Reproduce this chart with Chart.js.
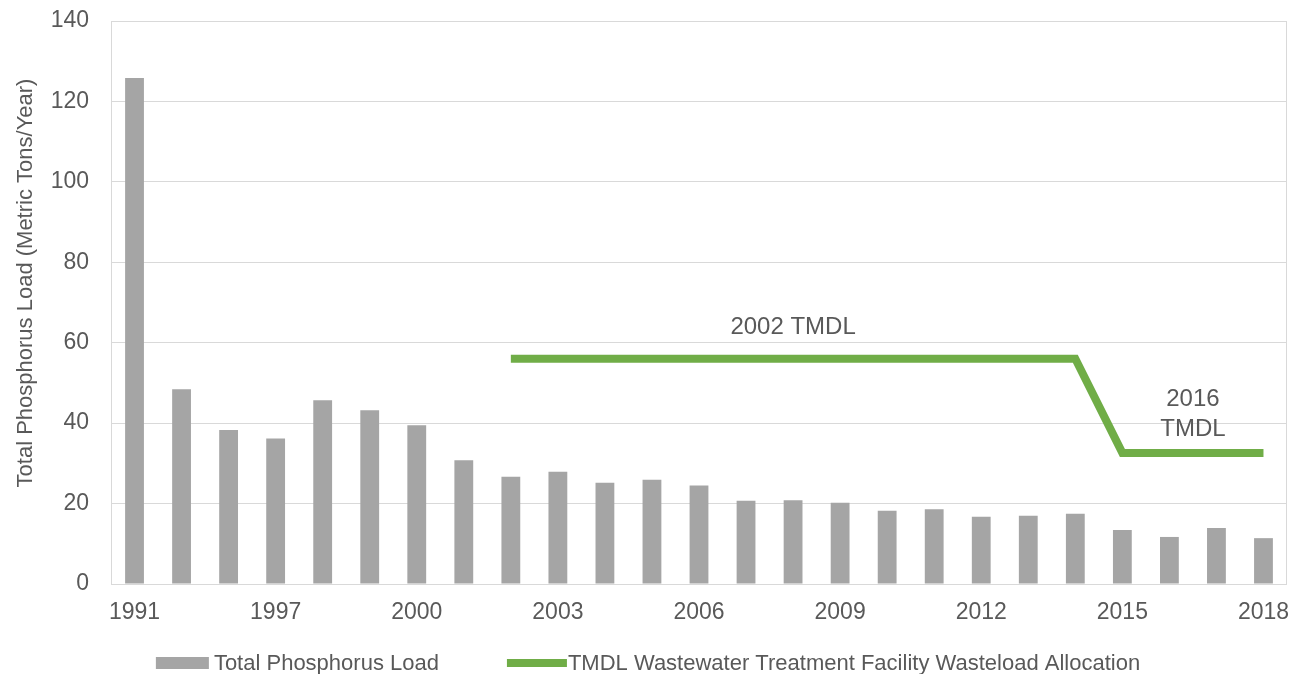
<!DOCTYPE html>
<html>
<head>
<meta charset="utf-8">
<script src="https://cdn.jsdelivr.net/npm/chart.js@4.4.1/dist/chart.umd.min.js"></script>
<style>
  html, body { margin: 0; padding: 0; background: #fff; overflow: hidden; }
  #wrap { width: 1296px; height: 674px; }
</style>
</head>
<body>
<div id="wrap"><canvas id="loadChart"></canvas></div>
<script>
/* Datos */

// Años (solo se rotula uno de cada tres en el eje X)
const years = ['1991', '1995', '1996', '1997', '1998', '1999', '2000', '2001', '2002',
  '2003', '2004', '2005', '2006', '2007', '2008', '2009', '2010', '2011', '2012',
  '2013', '2014', '2015', '2016', '2017', '2018'];

// Carga total de fósforo (t métricas/año)
const phosphorusLoad = [125.8, 48.4, 38.3, 36.2, 45.7, 43.2, 39.5, 30.8, 26.7,
  27.9, 25.2, 25.9, 24.5, 20.7, 20.8, 20.2, 18.2, 18.6, 16.7,
  17.0, 17.5, 13.4, 11.7, 13.9, 11.4];

// Asignación TMDL (null = sin TMDL ese año)
const wasteloadAllocation = [null, null, null, null, null, null, null, null, 56,
  56, 56, 56, 56, 56, 56, 56, 56, 56, 56,
  56, 56, 32.6, 32.6, 32.6, 32.6];

const yTicks = [0, 20, 40, 60, 80, 100, 120, 140];

// Rótulos dentro del gráfico: [texto, índice de categoría, valor]
const notes = [
  ['2002 TMDL', 14, 63.7],
  ['2016', 22.5, 46.0],
  ['TMDL', 22.5, 38.5],
];

/* Estilos */
const COLORS = {
  bar:   '#A5A5A5',
  green: '#70AD47',
  grid:  '#D9D9D9',
  text:  '#595959',
};
const FONT = "'Liberation Sans', Arial, sans-serif";

Chart.defaults.font.family = FONT;
Chart.defaults.color = COLORS.text;

// Borde del área de trazado + título del eje Y + rótulos TMDL
const extras = {
  id: 'extras',
  afterDraw(chart) {
    const { ctx, chartArea: a, scales } = chart;
    ctx.save();
    ctx.strokeStyle = COLORS.grid;
    ctx.lineWidth = 1;
    ctx.strokeRect(a.left + 0.5, a.top + 0.5, a.right - a.left - 1, a.bottom - a.top);

    ctx.fillStyle = COLORS.text;
    ctx.textAlign = 'center';
    ctx.textBaseline = 'middle';
    ctx.font = `24px ${FONT}`;
    notes.forEach(([txt, i, v]) => {
      const x = scales.x.getPixelForValue(0) + i * (scales.x.getPixelForValue(1) - scales.x.getPixelForValue(0));
      ctx.fillText(txt, x, scales.y.getPixelForValue(v));
    });

    ctx.translate(26, 283);
    ctx.rotate(-Math.PI / 2);
    ctx.font = `22px ${FONT}`;
    ctx.fillText('Total Phosphorus Load (Metric Tons/Year)', 0, 0);
    ctx.restore();
  },
};

// Leyenda dibujada a mano para reproducir el tamaño de las muestras
const bottomLegend = {
  id: 'bottomLegend',
  afterDraw(chart) {
    const { ctx } = chart;
    const items = [
      { text: chart.data.datasets[0].label, type: 'box',  color: COLORS.bar,   w: 53, gap: 5 },
      { text: chart.data.datasets[1].label, type: 'line', color: COLORS.green, w: 60, gap: 1 },
    ];
    const spacing = 68;
    const y = 663;
    ctx.save();
    ctx.font = `22px ${FONT}`;
    let total = 0;
    items.forEach((it, k) => {
      it.tw = ctx.measureText(it.text).width;
      total += it.w + it.gap + it.tw + (k ? spacing : 0);
    });
    let x = chart.width / 2 - total / 2;
    ctx.textBaseline = 'middle';
    ctx.textAlign = 'left';
    items.forEach((it) => {
      if (it.type === 'box') {
        ctx.fillStyle = it.color;
        ctx.fillRect(x, y - 6, it.w, 12);
      } else {
        ctx.strokeStyle = it.color;
        ctx.lineWidth = 8;
        ctx.beginPath();
        ctx.moveTo(x, y);
        ctx.lineTo(x + it.w, y);
        ctx.stroke();
      }
      ctx.fillStyle = COLORS.text;
      ctx.fillText(it.text, x + it.w + it.gap, y + 1);
      x += it.w + it.gap + it.tw + spacing;
    });
    ctx.restore();
  },
};

new Chart(document.getElementById('loadChart'), {
  type: 'bar',
  data: {
    labels: years,
    datasets: [
      {
        label: 'Total Phosphorus Load',
        data: phosphorusLoad,
        backgroundColor: COLORS.bar,
        categoryPercentage: 1,
        barPercentage: 0.4,
        order: 2,
      },
      {
        type: 'line',
        label: 'TMDL Wastewater Treatment Facility Wasteload Allocation',
        data: wasteloadAllocation,
        borderColor: COLORS.green,
        backgroundColor: COLORS.green,
        borderWidth: 8,
        pointRadius: 0,
        tension: 0,
        spanGaps: false,
        order: 1,
      },
    ],
  },
  options: {
    responsive: true,
    maintainAspectRatio: false,
    animation: false,
    layout: { padding: { top: 21, right: 9, bottom: 40, left: 0 } },
    plugins: {
      legend: { display: false },
      tooltip: { enabled: false },
    },
    scales: {
      x: {
        grid: { display: false, drawTicks: false },
        border: { display: false },
        ticks: {
          autoSkip: false,
          maxRotation: 0,
          padding: 15,
          font: { size: 23 },
          color: COLORS.text,
          callback: (v, i) => (i % 3 === 0 ? years[i] : ''),
        },
        afterFit: (s) => {
          s.height = 50;
          s.paddingLeft = 0;
          s.paddingRight = 0;
        },
      },
      y: {
        min: 0,
        max: 140,
        afterBuildTicks: (s) => { s.ticks = yTicks.map((v) => ({ value: v })); },
        grid: { color: COLORS.grid, drawTicks: false },
        border: { display: false },
        ticks: { padding: 22, font: { size: 23 }, color: COLORS.text },
        afterFit: (s) => {
          s.width = 111;
          s.paddingTop = 0;
          s.paddingBottom = 0;
        },
      },
    },
  },
  plugins: [extras, bottomLegend],
});
</script>
</body>
</html>
